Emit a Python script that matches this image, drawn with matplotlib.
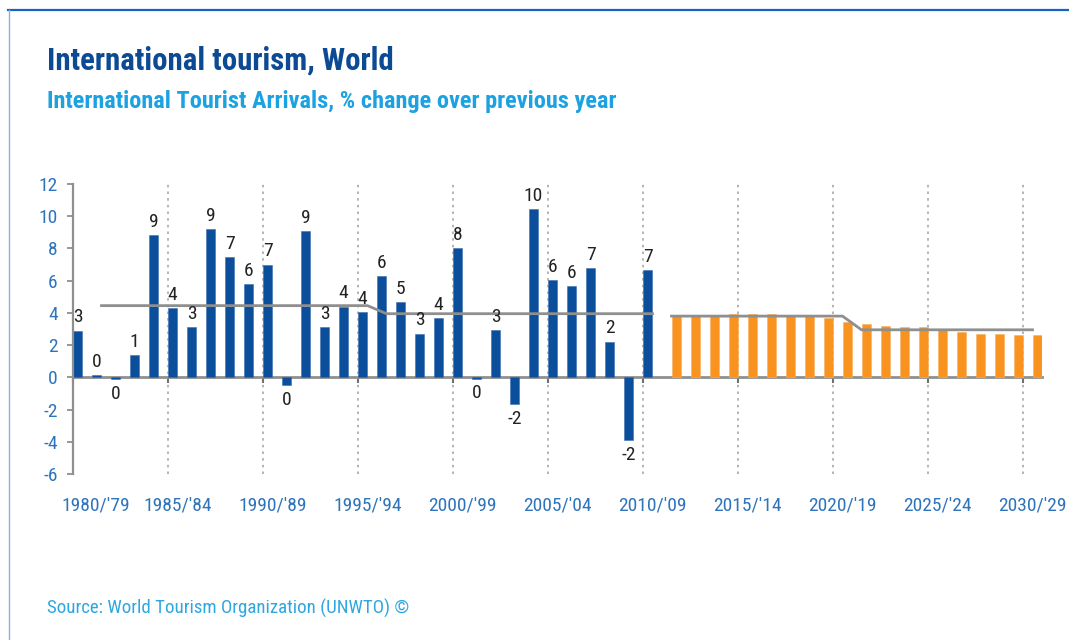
import matplotlib
matplotlib.use("Agg")
import matplotlib.pyplot as plt
from matplotlib.lines import Line2D
from matplotlib import font_manager as fm
import matplotlib.transforms as mtransforms
import numpy as np

# ---------------- data ----------------
hist_years = list(range(1980, 2011))
hist_values = [2.9, 0.15, -0.12, 1.37, 8.84, 4.3, 3.1, 9.2, 7.45, 5.78,
               7.0, -0.48, 9.08, 3.1, 4.39, 4.07, 6.28, 4.68, 2.72, 3.7,
               8.0, -0.1, 2.95, -1.68, 10.44, 6.03, 5.65, 6.76, 2.22, -3.9,
               6.65]
hist_labels = ['3', '0', '0', '1', '9', '4', '3', '9', '7', '6',
               '7', '0', '9', '3', '4', '4', '6', '5', '3', '4',
               '8', '0', '3', '-2', '10', '6', '6', '7', '2', '-2',
               '7']

fc_years = list(range(2011, 2031))
fc_values = [3.78, 3.78, 3.78, 3.95, 3.95, 3.95, 3.78, 3.78, 3.68, 3.45,
             3.33, 3.2, 3.12, 3.12, 2.95, 2.83, 2.7, 2.7, 2.6, 2.6]

hist_trend_years = [1981, 1995, 1996, 2010]
hist_trend_vals = [4.45, 4.45, 3.95, 3.95]
fc_trend_years = [2011, 2020, 2021, 2030]
fc_trend_vals = [3.8, 3.8, 2.95, 2.95]

tick_years = list(range(1980, 2031, 5))
tick_labels = ["1980/'79", "1985/'84", "1990/'89", "1995/'94", "2000/'99",
               "2005/'04", "2010/'09", "2015/'14", "2020/'19", "2025/'24",
               "2030/'29"]
y_ticks = list(range(-6, 13, 2))

title = "International tourism, World"
subtitle = "International Tourist Arrivals, % change over previous year"
source = "Source: World Tourism Organization (UNWTO) \u00a9"

# ---------------- style ----------------
available = {f.name for f in fm.fontManager.ttflist}
candidates = ['Roboto Condensed', 'Archivo Narrow', 'Liberation Sans Narrow',
              'Arimo Narrow', 'PT Sans Narrow', 'IBM Plex Sans Condensed']
chosen = next((c for c in candidates if c in available), 'DejaVu Sans')
plt.rcParams['font.family'] = [chosen, 'DejaVu Sans']

BLUE_BAR = '#0B4E9B'
ORANGE = '#F7931E'
GREY = '#8F8F8F'
TICK_BLUE = '#2E74BC'

W, H = 1069, 640
fig = plt.figure(figsize=(W / 100, H / 100), dpi=100)
fig.patch.set_facecolor('white')

ax = fig.add_axes([73 / W, (H - 474) / H, (1042 - 73) / W, (474 - 184) / H])
ax.set_xlim(1980, 2031)
ax.set_ylim(-6, 12)

# dotted vertical grid at 5-year boundaries
for yr in tick_years[1:]:
    ax.axvline(yr, color='#A8A8A8', linestyle=(0, (1.5, 2.5)), linewidth=1.2, zorder=0)

# bars
hx = np.array(hist_years, dtype=float)
fx = np.array(fc_years, dtype=float)
ax.bar(hx, hist_values, width=0.48, align='edge', color=BLUE_BAR,
       edgecolor='#3D6FB0', linewidth=0.4, zorder=2)
ax.bar(fx + 0.5, fc_values, width=0.48, align='edge', color=ORANGE,
       edgecolor='#F9B060', linewidth=0.4, zorder=2)

# trend lines
ax.plot(np.array(hist_trend_years) + 0.5, hist_trend_vals, color=GREY, lw=2, zorder=3)
ax.plot(np.array(fc_trend_years) + 0.5, fc_trend_vals, color=GREY, lw=2, zorder=3)

# value labels
for x, v, lab in zip(hx, hist_values, hist_labels):
    if v >= 0:
        ax.annotate(lab, (x + 0.24, v), xytext=(0, 3), textcoords='offset points',
                    ha='center', va='bottom', fontsize=14, color='#222222', zorder=4)
    else:
        ax.annotate(lab, (x + 0.24, v), xytext=(0, -4), textcoords='offset points',
                    ha='center', va='top', fontsize=14, color='#222222', zorder=4)

# axes styling
for s in ['top', 'right', 'bottom']:
    ax.spines[s].set_visible(False)
ax.spines['left'].set_color(GREY)
ax.spines['left'].set_linewidth(1.6)
ax.set_yticks(y_ticks)
ax.set_yticklabels([str(t) for t in y_ticks])
ax.tick_params(axis='y', direction='out', length=4, width=1.3, color=GREY,
               labelcolor=TICK_BLUE, labelsize=14, pad=7)

ax.set_xticks(np.array(tick_years) + 0.5)
ax.set_xticklabels(tick_labels)
ax.tick_params(axis='x', length=0, labelcolor=TICK_BLUE, labelsize=14, pad=16)
# first label sits a little to the right in the reference
first = ax.get_xticklabels()[0]
first.set_transform(first.get_transform() +
                    mtransforms.ScaledTranslation(13 / 100, 0, fig.dpi_scale_trans))

# zero axis line with boundary ticks
sec = ax.secondary_xaxis(6 / 18)
sec.spines['bottom'].set_color(GREY)
sec.spines['bottom'].set_linewidth(2)
sec.set_xticks(tick_years)
sec.set_xticklabels([])
sec.tick_params(direction='out', length=4, width=1.5, color='#707070')

# titles
fig.text(47 / W, 1 - 46 / H, title, fontsize=22.2, fontweight='bold',
         color='#0D4A94', ha='left', va='top')
fig.text(47 / W, 1 - 90 / H, subtitle, fontsize=17.5, fontweight='bold',
         color='#1CA2E0', ha='left', va='top')
fig.text(47 / W, 1 - 599 / H, source, fontsize=13.6, color='#2EA6E0',
         ha='left', va='top')

# frame lines
fig.add_artist(Line2D([8 / W, 1], [1 - 10 / H, 1 - 10 / H], color='#1565C0',
                      lw=1.6, transform=fig.transFigure))
fig.add_artist(Line2D([9 / W, 9 / W], [0, 1 - 10 / H], color='#8DB0DC',
                      lw=1.0, transform=fig.transFigure))

fig.savefig('out.png', dpi=100, facecolor='white')
